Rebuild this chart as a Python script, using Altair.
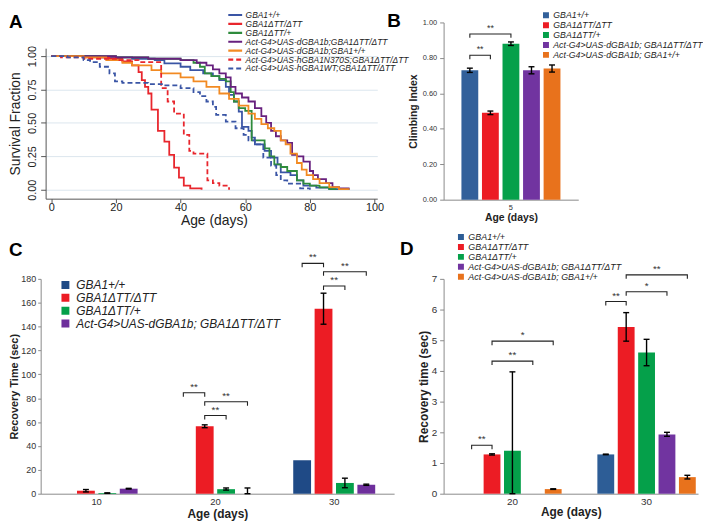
import altair as alt
import pandas as pd

FONT = "Liberation Sans"
INK = "#222222"
AX = "#8a8a8a"

# ---------------- Panel A: survival curves (Kaplan-Meier) ----------------
a_series = ["GBA1+/+", "GBA1ΔTT/ΔTT", "GBA1ΔTT/+",
            "Act-G4>UAS-dGBA1b;GBA1ΔTT/ΔTT", "Act-G4>UAS-dGBA1b;GBA1+/+",
            "Act-G4>UAS-hGBA1N370S;GBA1ΔTT/ΔTT", "Act-G4>UAS-hGBA1WT;GBA1ΔTT/ΔTT"]
a_colors = ["#3a55a5", "#e8262d", "#2e8b3c", "#67207e", "#f28a22", "#e8262d", "#3a55a5"]
a_dashes = [[1, 0], [1, 0], [1, 0], [1, 0], [1, 0], [5, 3], [5, 3]]

wt_day = [0, 15, 25, 32, 35, 40, 43, 47, 50, 52, 54, 55, 56.5, 58, 59, 61, 62, 63, 66, 68, 70, 71, 74, 76, 78, 82, 86, 92]
wt_surv = [1.0, 0.99, 0.98, 0.97, 0.945, 0.92, 0.895, 0.87, 0.85, 0.82, 0.77, 0.71, 0.66, 0.585, 0.47, 0.44, 0.39, 0.34, 0.29, 0.24, 0.19, 0.13, 0.11, 0.07, 0.03, 0.015, 0.005, 0.0]

dtt_day = [0, 10, 18, 22, 25, 27, 28, 29, 30, 31, 33, 35, 36.5, 38, 39.5, 41, 43, 46.5]
dtt_surv = [1.0, 0.99, 0.98, 0.96, 0.93, 0.88, 0.82, 0.77, 0.72, 0.60, 0.44, 0.36, 0.26, 0.165, 0.09, 0.03, 0.01, 0.0]

het_day = [0, 20, 30, 40, 44, 46, 47.5, 49.5, 52, 54, 55.5, 56.5, 58, 60, 62, 66, 67.5, 69, 71, 73, 76, 78, 80, 83, 86, 88]
het_surv = [1.0, 0.99, 0.98, 0.97, 0.95, 0.92, 0.87, 0.85, 0.83, 0.81, 0.73, 0.66, 0.61, 0.59, 0.37, 0.31, 0.25, 0.19, 0.17, 0.14, 0.07, 0.045, 0.03, 0.017, 0.005, 0.0]

rescue_day = [0, 20, 30, 40, 45, 48, 50, 52, 54, 55.5, 57, 59, 61, 63, 65, 66.5, 68, 69.5, 71, 73, 74.5, 76, 78, 80, 81, 82.5, 85, 87, 89, 92]
rescue_surv = [1.0, 0.99, 0.98, 0.97, 0.95, 0.93, 0.90, 0.87, 0.84, 0.77, 0.72, 0.69, 0.66, 0.61, 0.55, 0.50, 0.44, 0.40, 0.37, 0.35, 0.26, 0.25, 0.21, 0.14, 0.11, 0.08, 0.05, 0.02, 0.01, 0.0]

oe_day = [0, 10, 17, 22, 25, 31, 34, 40, 44, 48, 52, 55, 58, 61, 63, 65, 67, 69, 71, 72.5, 74, 76, 77.5, 79, 81, 83, 86, 89, 92]
oe_surv = [1.0, 0.99, 0.97, 0.95, 0.93, 0.895, 0.87, 0.84, 0.81, 0.77, 0.72, 0.68, 0.63, 0.57, 0.53, 0.49, 0.46, 0.44, 0.37, 0.34, 0.27, 0.20, 0.15, 0.11, 0.08, 0.05, 0.02, 0.005, 0.0]

n370s_day = [0, 3, 10, 20, 27, 34, 36, 38, 41, 42.7, 44, 48.3, 50, 52, 55]
n370s_surv = [1.0, 0.99, 0.98, 0.97, 0.955, 0.76, 0.66, 0.57, 0.41, 0.29, 0.27, 0.07, 0.05, 0.03, 0.0]

hwt_day = [0, 5, 10, 12, 15, 18, 19.7, 22, 30, 35, 40, 44, 46, 48, 50, 51, 54, 57, 59.5, 61, 63, 65.6, 68, 69.6, 71, 73, 77, 80]
hwt_surv = [1.0, 0.99, 0.97, 0.955, 0.92, 0.87, 0.81, 0.80, 0.79, 0.78, 0.76, 0.73, 0.70, 0.66, 0.62, 0.56, 0.51, 0.46, 0.41, 0.37, 0.34, 0.24, 0.18, 0.11, 0.07, 0.045, 0.01, 0.0]

a_days = [wt_day, dtt_day, het_day, rescue_day, oe_day, n370s_day, hwt_day]
a_survs = [wt_surv, dtt_surv, het_surv, rescue_surv, oe_surv, n370s_surv, hwt_surv]

# ---------------- Panel B: climbing index ----------------
b_groups = ["5"]
b_series = ["GBA1+/+", "GBA1ΔTT/ΔTT", "GBA1ΔTT/+",
            "Act-G4>UAS-dGBA1b; GBA1ΔTT/ΔTT", "Act-G4>UAS-dGBA1b; GBA1+/+"]
b_colors = ["#32609a", "#ec1c24", "#05a04a", "#7134a0", "#e8721c"]
b_vals = [[0.73], [0.49], [0.88], [0.73], [0.74]]
b_lo = [[0.718], [0.48], [0.87], [0.71], [0.72]]
b_hi = [[0.742], [0.50], [0.89], [0.75], [0.76]]
b_brackets = [("5", 0, 1, 0.815, "**"), ("5", 0, 2, 0.935, "**")]

# ---------------- Panel C: recovery time (sec) ----------------
c_groups = ["10", "20", "30"]
c_series = ["GBA1+/+", "GBA1ΔTT/ΔTT", "GBA1ΔTT/+", "Act-G4>UAS-dGBA1b; GBA1ΔTT/ΔTT"]
c_colors = ["#1f4a86", "#ec1c24", "#05a04a", "#6e2f9c"]
c_wt = [0, 0, 28]
c_dtt = [2.5, 56.5, 155]
c_het = [0.5, 3.8, 9.0]
c_rescue = [4.2, 0.0, 7.5]
c_lo = [[None, None, None], [1.5, 55.3, 142], [0.3, 3.0, 5.0], [3.9, 0.0, 7.0]]
c_hi = [[None, None, None], [3.5, 57.7, 168], [0.7, 4.8, 13.0], [4.5, 4.8, 8.0]]
c_brackets = [("20", 0, 1, 84.6, "**"), ("20", 1, 3, 77, "**"), ("20", 1, 2, 65.5, "**"),
              ("30", 0, 1, 193, "**"), ("30", 1, 3, 186, "**"), ("30", 1, 2, 174, "**")]

# ---------------- Panel D: recovery time (sec) ----------------
d_groups = ["20", "30"]
d_series = b_series
d_colors = ["#2d5d96", "#ec1c24", "#05a04a", "#7134a0", "#e8721c"]
d_wt = [0, 1.28]
d_dtt = [1.28, 5.43]
d_het = [1.40, 4.60]
d_rescue = [0, 1.93]
d_oe = [0.15, 0.54]
d_lo = [[None, 1.27], [1.26, 4.97], [0.0, 4.17], [None, 1.87], [0.14, 0.48]]
d_hi = [[None, 1.29], [1.30, 5.90], [3.97, 5.03], [None, 2.00], [0.16, 0.60]]
d_brackets = [("20", 0, 1, 1.58, "**"), ("20", 1, 3, 4.32, "**"), ("20", 1, 4, 4.97, "*"),
              ("30", 0, 1, 6.26, "**"), ("30", 1, 3, 6.58, "*"), ("30", 1, 4, 7.13, "**")]


def panel_title(letter, dx, dy):
    return alt.TitleParams(text=letter, anchor="start", frame="group", orient="top", offset=0,
                           dx=dx, dy=dy, fontSize=19, fontWeight="bold", font=FONT,
                           color="#000000", baseline="bottom")


# ---------- chart A ----------
rowsA = [{"genotype": s, "day": d, "surv": v}
         for s, ds, vs in zip(a_series, a_days, a_survs) for d, v in zip(ds, vs)]
dfA = pd.DataFrame(rowsA)

legA = alt.Legend(orient="none", legendX=188, legendY=-12, title=None, symbolType="stroke",
                  symbolSize=196, symbolStrokeWidth=2.2, labelFont=FONT, labelFontSize=8.5,
                  labelFontStyle="italic", labelColor=INK, clipHeight=9, rowPadding=0,
                  labelOffset=2, padding=0, labelLimit=400)

chartA = alt.Chart(dfA).mark_line(interpolate="step-after", strokeWidth=1.8).encode(
    x=alt.X("day:Q", scale=alt.Scale(domain=[-1.75, 100.86], nice=False, zero=False, range=[5, 340]),
            axis=alt.Axis(values=[0, 20, 40, 60, 80, 100], title="Age (days)", grid=False,
                          tickSize=4, labelPadding=-1, titlePadding=1, labelFontSize=11,
                          titleFontSize=14, titleFontWeight="normal", domainColor="#555555",
                          tickColor="#555555", labelColor=INK, titleColor=INK,
                          titleX=175, titleY=15, titleBaseline="top")),
    y=alt.Y("surv:Q", scale=alt.Scale(domain=[-0.067, 1.059], nice=False, zero=False, range=[178, 26]),
            axis=alt.Axis(values=[0, 0.25, 0.5, 0.75, 1.0], format=".2f", title="Survival Fraction",
                          grid=True, gridColor="#dce6ee", labelAngle=270, labelAlign="center",
                          labelBaseline="bottom", tickSize=5, labelPadding=3, titlePadding=4,
                          labelFontSize=11, titleFontSize=14, titleFontWeight="normal", offset=-5,
                          domainColor="#555555", tickColor="#555555", labelColor=INK, titleColor=INK,
                          titleY=102)),
    color=alt.Color("genotype:N", scale=alt.Scale(domain=a_series, range=a_colors), legend=legA),
    strokeDash=alt.StrokeDash("genotype:N", scale=alt.Scale(domain=a_series, range=a_dashes), legend=legA),
).properties(width=365, height=178, title=panel_title("A", -32, 41))


# ---------- bar panels ----------
def bar_panel(groups, series, colors, vals, los, his, brackets, ymax, drop, width, height,
              xpad, offpad, bar_w, cap_w, yaxis, xaxis, legend, star_size, title):
    n = len(series)
    bars, errs, caps, br, stars = [], [], [], [], []
    for i, s in enumerate(series):
        for g, v, lo, hi in zip(groups, vals[i], los[i], his[i]):
            bars.append({"age": g, "genotype": s, "slot": 2 * i, "value": v})
            if lo is not None:
                errs.append({"age": g, "slot": 2 * i, "lo": lo, "hi": hi})
                caps.append({"age": g, "slot": 2 * i, "yv": lo})
                caps.append({"age": g, "slot": 2 * i, "yv": hi})
    for k, (g, i, j, lvl, lab) in enumerate(brackets):
        pts = [(2 * i, lvl - drop), (2 * i, lvl), (2 * j, lvl), (2 * j, lvl - drop)]
        for o, (sl, yv) in enumerate(pts):
            br.append({"age": g, "slot": sl, "yv": yv, "bid": k, "ord": o})
        stars.append({"age": g, "slot": i + j, "yv": lvl, "lab": lab})

    xs = alt.Scale(domain=groups, **xpad)
    osc = alt.Scale(domain=list(range(2 * n - 1)), paddingInner=0, paddingOuter=offpad)
    ys = alt.Scale(domain=[0, ymax], nice=False, zero=True)

    def X():
        return alt.X("age:N", scale=xs, axis=xaxis)

    def XO():
        return alt.XOffset("slot:O", scale=osc)

    def Y(f):
        return alt.Y(f, scale=ys, axis=yaxis)

    l_bars = alt.Chart(pd.DataFrame(bars)).mark_bar(width=bar_w).encode(
        x=X(), xOffset=XO(), y=Y("value:Q"),
        color=alt.Color("genotype:N", scale=alt.Scale(domain=series, range=colors), legend=legend))
    l_rules = alt.Chart(pd.DataFrame(errs)).mark_rule(color="black", strokeWidth=1.4).encode(
        x=X(), xOffset=XO(), y=Y("lo:Q"), y2="hi:Q")
    l_caps = alt.Chart(pd.DataFrame(caps)).mark_tick(
        orient="horizontal", color="black", size=cap_w, thickness=1.4, opacity=1).encode(
        x=X(), xOffset=XO(), y=Y("yv:Q"))
    l_br = alt.Chart(pd.DataFrame(br)).mark_line(color="#222222", strokeWidth=1.1).encode(
        x=X(), xOffset=XO(), y=Y("yv:Q"), detail="bid:N", order="ord:Q")
    l_txt = alt.Chart(pd.DataFrame(stars)).mark_text(
        baseline="bottom", dy=-1, fontSize=star_size, color="#333333", font=FONT).encode(
        x=X(), xOffset=XO(), y=Y("yv:Q"), text="lab:N")
    return alt.layer(l_bars, l_rules, l_caps, l_br, l_txt).properties(
        width=width, height=height, title=title)


def bar_legend(x, y, size, fs, clip, off):
    return alt.Legend(orient="none", legendX=x, legendY=y, title=None, symbolType="square",
                      symbolSize=size, symbolStrokeWidth=0, labelFont=FONT, labelFontSize=fs,
                      labelFontStyle="italic", labelColor=INK, clipHeight=clip, rowPadding=0,
                      labelOffset=off, padding=0, labelLimit=400)


chartB = bar_panel(
    b_groups, b_series, b_colors, b_vals, b_lo, b_hi, b_brackets, ymax=1.0, drop=0.022,
    width=136, height=179, xpad=dict(paddingInner=0, paddingOuter=0.154), offpad=0.51,
    bar_w=17, cap_w=6,
    yaxis=alt.Axis(values=[0, 0.2, 0.4, 0.6, 0.8, 1.0], format=".2f", title="Climbing Index",
                   grid=False, tickSize=4, labelPadding=3, titlePadding=4, labelFontSize=7.5,
                   titleFontSize=10.5, titleFontWeight="bold", domainColor=AX, tickColor=AX,
                   labelColor="#333333", titleColor=INK),
    xaxis=alt.Axis(title="Age (days)", labelAngle=0, ticks=False, labelPadding=4, titlePadding=1.5,
                   labelFontSize=7.5, titleFontSize=10.5, titleFontWeight="bold", domainColor=AX,
                   labelColor="#333333", titleColor=INK),
    legend=bar_legend(99, -12, 36, 8.8, 9.5, 3), star_size=9,
    title=panel_title("B", -57, 40))

chartC = bar_panel(
    c_groups, c_series, c_colors, [c_wt, c_dtt, c_het, c_rescue], c_lo, c_hi, c_brackets,
    ymax=180, drop=3.3, width=357, height=217,
    xpad=dict(paddingInner=0.25, paddingOuter=0.1125, align=0.426), offpad=0.667,
    bar_w=18, cap_w=6,
    yaxis=alt.Axis(values=list(range(0, 181, 20)), format="d", title="Recovery Time (sec)",
                   grid=False, tickSize=3, labelPadding=2, titlePadding=1, labelFontSize=9,
                   titleFontSize=11, titleFontWeight="bold", domainColor=AX, tickColor=AX,
                   labelColor="#333333", titleColor=INK),
    xaxis=alt.Axis(title="Age (days)", labelAngle=0, ticks=False, labelPadding=3, titlePadding=3,
                   labelFontSize=9.5, titleFontSize=12, titleFontWeight="bold", domainColor=AX,
                   labelColor="#333333", titleColor=INK),
    legend=bar_legend(19, 0, 64, 12, 12.3, 5), star_size=10,
    title=panel_title("C", -32, 27))

chartD = bar_panel(
    d_groups, d_series, d_colors, [d_wt, d_dtt, d_het, d_rescue, d_oe], d_lo, d_hi, d_brackets,
    ymax=7, drop=0.13, width=257, height=217,
    xpad=dict(paddingInner=0.2325, paddingOuter=0.0646, align=1), offpad=0.549,
    bar_w=17, cap_w=6,
    yaxis=alt.Axis(values=list(range(0, 8)), format="d", title="Recovery time (sec)",
                   grid=False, tickSize=4, labelPadding=3, titlePadding=1, labelFontSize=10,
                   titleFontSize=12, titleFontWeight="bold", domainColor=AX, tickColor=AX,
                   labelColor="#333333", titleColor=INK),
    xaxis=alt.Axis(title="Age (days)", labelAngle=0, ticks=False, labelPadding=3, titlePadding=0,
                   labelFontSize=10, titleFontSize=12, titleFontWeight="bold", domainColor=AX,
                   labelColor="#333333", titleColor=INK),
    legend=bar_legend(13, -47, 36, 9, 9.6, 3), star_size=10,
    title=panel_title("D", -44, 46))

RES = dict(x="independent", y="independent", color="independent", strokeDash="independent",
           xOffset="independent")

chart = alt.concat(chartA, chartB, chartC, chartD, columns=2,
                   spacing=alt.RowColnumber(row=80, column=42),
                   bounds="flush", align="none").resolve_scale(**RES).resolve_legend(
    color="independent", strokeDash="independent").properties(padding=0, background="white")

chart = chart.configure_view(stroke=None).configure_axis(
    labelFont=FONT, titleFont=FONT).configure_legend(labelFont=FONT).configure_title(font=FONT)

chart.save("out.html", embed_options={"renderer": "svg", "actions": False})
